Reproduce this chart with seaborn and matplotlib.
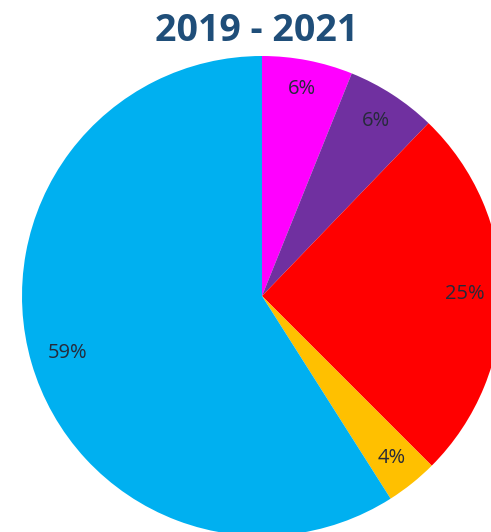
import matplotlib
matplotlib.use("Agg")
import matplotlib.pyplot as plt
import seaborn as sns
import numpy as np

sns.set_theme(style="white")
plt.rcParams['font.family'] = ['Open Sans', 'DejaVu Sans']

categories = ["Magenta", "Purple", "Red", "Orange", "Blue"]
values = [6.1, 6.1, 25.3, 3.5, 59.0]
labels_txt = ["6%", "6%", "25%", "4%", "59%"]
colors = ["#FF00FF", "#7030A0", "#FF0000", "#FFC000", "#00B0F0"]

W, H = 491, 532
fig = plt.figure(figsize=(W / 100, H / 100), dpi=100)
cx, cy, r = 262, 296, 240
ax = fig.add_axes([(cx - r) / W, (H - cy - r) / H, 2 * r / W, 2 * r / H])

wedges, texts = ax.pie(values, colors=colors, startangle=90, counterclock=False,
                       radius=1.0, wedgeprops=dict(linewidth=0))
cum = np.cumsum([0] + values)
tot = cum[-1]
label_dist = [0.88, 0.87, 0.845, 0.865, 0.845]
for i, lab in enumerate(labels_txt):
    mid = 90 - 360 * (cum[i] + cum[i + 1]) / 2 / tot
    d = label_dist[i]
    ax.text(d * np.cos(np.radians(mid)), d * np.sin(np.radians(mid)), lab,
            ha="center", va="center", fontsize=14.5, color="#262a3a")
ax.set_xlim(-1, 1)
ax.set_ylim(-1, 1)
ax.set_aspect("auto")
ax.axis("off")

fig.text(257 / W, 1 - 31 / H, "2019 - 2021", ha="center", va="center",
         fontsize=27, fontweight="bold", color="#1F4E79")

fig.savefig("out.png", dpi=100)
